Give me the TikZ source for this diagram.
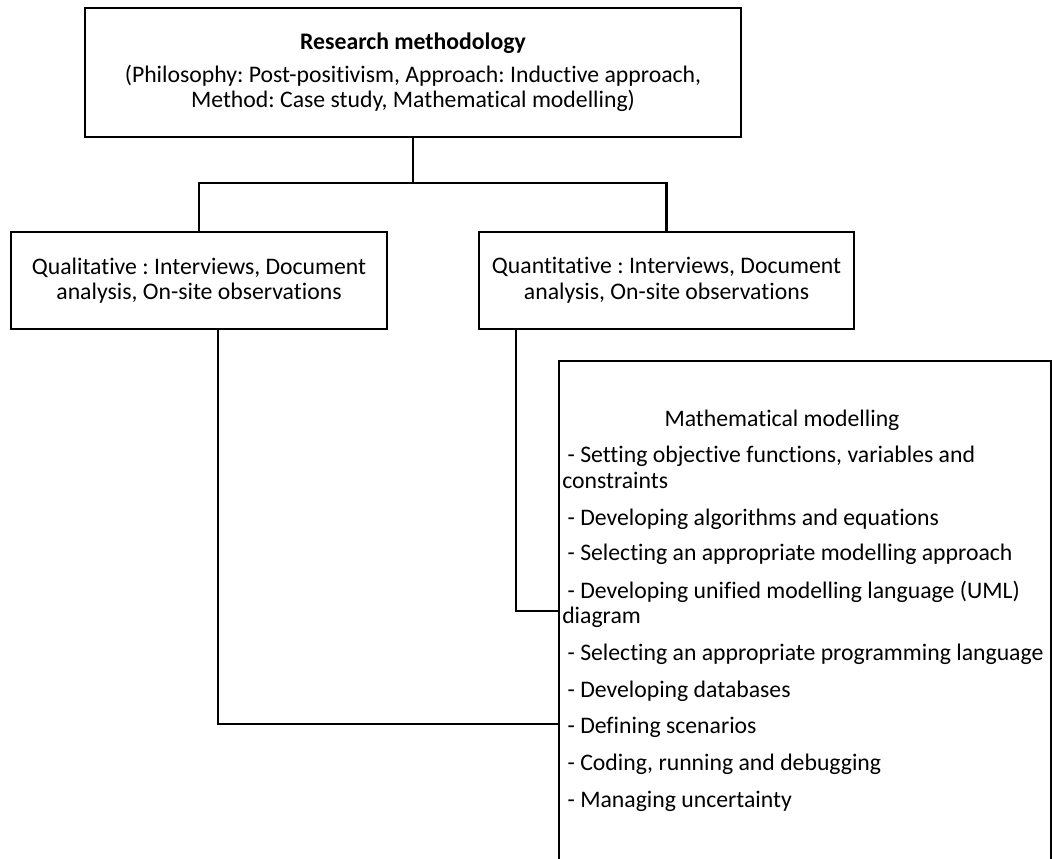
\documentclass[tikz,border=0pt]{standalone}
\usepackage{fontspec}
\setmainfont{Carlito}[Ligatures={NoCommon}]
\frenchspacing
\begin{document}
\begin{tikzpicture}[x=0.75pt,y=-0.75pt,
  box/.style={draw, line width=1.7pt, inner sep=0pt, align=center, font=\fontsize{17.8}{19.2}\selectfont},
  conn/.style={line width=1.7pt},
  txt/.style={font=\fontsize{17.8}{19.2}\selectfont, inner sep=0pt}
]
\useasboundingbox (0,0) rectangle (1052,859);

\node[box, minimum width={656*0.75pt}, minimum height={129*0.75pt}] (top) at (413,72.5)
  {\textbf{Research methodology}\\[5pt](Philosophy: Post-positivism, Approach: Inductive approach,\\ Method: Case study, Mathematical modelling)};
\node[box, minimum width={376*0.75pt}, minimum height={97*0.75pt}] (qual) at (199,280.5)
  {Qualitative : Interviews, Document\\ analysis, On-site observations};
\node[box, minimum width={375*0.75pt}, minimum height={97*0.75pt}] (quant) at (666.5,280.5)
  {Quantitative : Interviews, Document\\ analysis, On-site observations};
\node[box, anchor=north west, minimum width={492*0.75pt}, minimum height={540*0.75pt}] (math) at (558,360) {};

\coordinate (j) at (413,183);
\draw[conn] (top.south) -- (j);
\draw[conn] (qual.north) |- (j) -| (quant.north);
\draw[conn] ([xshift=14.25pt]qual.south) |- (math.north west |- 0,724);
\draw[conn] ([xshift=28.5pt]quant.south west) |- (math.north west |- 0,611);

\node[txt, anchor=base] (mt) at (782,426) {Mathematical modelling};
\foreach \t/\x/\y [count=\i] in {
  {\ - Setting objective functions, variables and}/562/462,
  {constraints}/562/488,
  {\ - Developing algorithms and equations}/562/525,
  {\ - Selecting an appropriate modelling approach}/562/560,
  {\ - Developing unified modelling language (UML)}/562/598,
  {diagram}/562/623,
  {\ - Selecting an appropriate programming language}/562/660,
  {\ - Developing databases}/562/697,
  {\ - Defining scenarios}/562/733,
  {\ - Coding, running and debugging}/562/770,
  {\ - Managing uncertainty}/562/807}
  \node[txt, anchor=base west] (m\i) at (\x,\y) {\t};
\end{tikzpicture}
\end{document}
